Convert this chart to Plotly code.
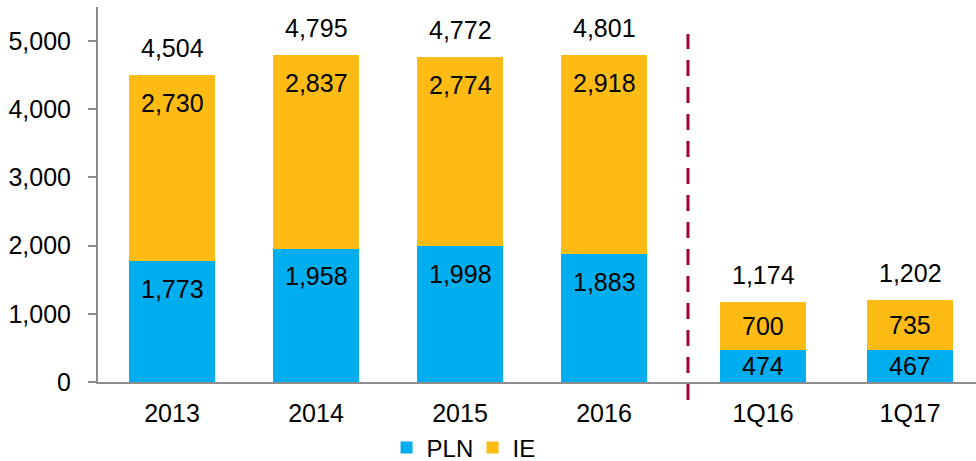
import plotly.graph_objects as go

categories = ["2013", "2014", "2015", "2016", "1Q16", "1Q17"]
pln = [1773, 1958, 1998, 1883, 474, 467]
ie = [2730, 2837, 2774, 2918, 700, 735]
totals = [4504, 4795, 4772, 4801, 1174, 1202]

# layout positions of the category slots (annual group, gap, quarterly group)
x_pos = [0, 1, 2, 3, 4.104, 5.125]
divider_x = 3.583
x_range = [-0.514, 5.583]

BLUE = "#00AEEF"
YELLOW = "#FDBB13"
FONT = "Arial, Liberation Sans, sans-serif"
FS = 25

fig = go.Figure()
fig.add_trace(go.Bar(x=x_pos, y=pln, name="PLN", marker=dict(color=BLUE, line=dict(width=0)),
                     width=0.6, hoverinfo="skip"))
fig.add_trace(go.Bar(x=x_pos, y=ie, name="IE", marker=dict(color=YELLOW, line=dict(width=0)),
                     width=0.6, hoverinfo="skip"))

label_drop = 410  # inside-end offset in data units
annotations = []
for xp, p, i, t in zip(x_pos, pln, ie, totals):
    for bottom, val in ((0, p), (p, i)):
        top = bottom + val
        y = max(top - label_drop, bottom + val / 2)
        annotations.append(dict(x=xp, y=y, xref="x", yref="y", text=f"{val:,}",
                                showarrow=False, yanchor="middle",
                                font=dict(family=FONT, size=FS, color="#000")))
    annotations.append(dict(x=xp, y=p + i, xref="x", yref="y", text=f"{t:,}",
                            showarrow=False, yanchor="middle", yshift=27,
                            font=dict(family=FONT, size=FS, color="#000")))

divider_paper = (divider_x - x_range[0]) / (x_range[1] - x_range[0])

fig.update_layout(
    barmode="stack",
    width=976, height=461,
    margin=dict(l=98, r=0, t=7, b=79, autoexpand=False),
    plot_bgcolor="white", paper_bgcolor="white",
    font=dict(family=FONT, size=FS, color="#000"),
    showlegend=True,
    legend=dict(orientation="h", x=0.4266, xanchor="center", y=-0.176, yanchor="middle",
                font=dict(family=FONT, size=24, color="#000"), itemwidth=30,
                entrywidth=41, entrywidthmode="pixels",
                traceorder="normal"),
    annotations=annotations,
    shapes=[dict(type="line", xref="paper", yref="paper", x0=divider_paper, x1=divider_paper,
                 y0=-0.048, y1=0.928, line=dict(color="#A0003C", width=3, dash="16px,11px"))],
    xaxis=dict(range=x_range, tickvals=x_pos, ticktext=categories, automargin=False,
               showgrid=False, zeroline=False, showline=True, linecolor="#8C8C8C",
               linewidth=2, ticks="", ticklabelstandoff=8,
               tickfont=dict(family=FONT, size=FS, color="#000")),
    yaxis=dict(range=[0, 5500], tickvals=[0, 1000, 2000, 3000, 4000, 5000], automargin=False,
               ticktext=["0", "1,000", "2,000", "3,000", "4,000", "5,000"],
               showgrid=False, zeroline=False, showline=True, linecolor="#8C8C8C",
               linewidth=2, ticks="outside", ticklen=8, tickwidth=2, tickcolor="#8C8C8C",
               ticklabelstandoff=12,
               tickfont=dict(family=FONT, size=FS, color="#000")),
)

fig.write_html("out.html", config={"displayModeBar": False},
               post_script="document.body.style.margin='0';")
